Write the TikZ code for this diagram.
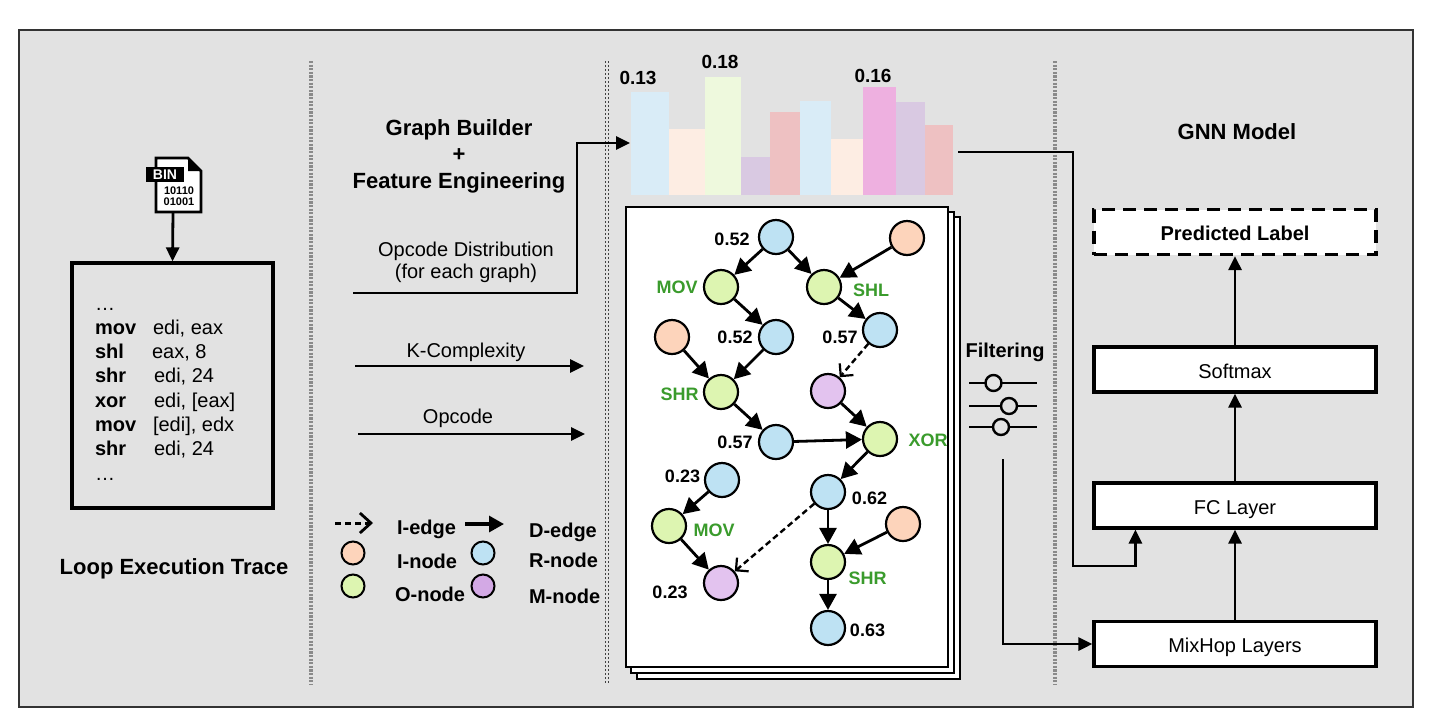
\documentclass[tikz,border=0pt]{standalone}
\usepackage{fontspec}
\setmainfont{Liberation Sans}
\usetikzlibrary{arrows.meta}
\definecolor{bgc}{HTML}{E2E2E2}
\definecolor{frm}{HTML}{333333}
\definecolor{divc}{HTML}{8A8A8A}
\definecolor{nblue}{HTML}{BEE2F3}
\definecolor{norange}{HTML}{FDD4BB}
\definecolor{ngreen}{HTML}{DDF5B1}
\definecolor{npurple}{HTML}{E3C3EF}
\definecolor{lpurple}{HTML}{D3A9E5}
\definecolor{opg}{HTML}{3A9B2C}
\definecolor{barA}{HTML}{D9ECF7}
\definecolor{barB}{HTML}{FDEDE3}
\definecolor{barC}{HTML}{EEF9DD}
\definecolor{barD}{HTML}{D9C9E2}
\definecolor{barE}{HTML}{EEC1C2}
\definecolor{barF}{HTML}{EEB0E0}
\begin{document}
\begin{tikzpicture}[x=0.5pt,y=-0.5pt,
  titletxt/.style={font=\fontsize{11}{13}\selectfont\bfseries},
  txt/.style={font=\fontsize{10}{12}\selectfont},
  btxt/.style={font=\fontsize{10}{12}\selectfont\bfseries},
  glab/.style={font=\fontsize{9}{10}\selectfont\bfseries},
  oplab/.style={glab, text=opg},
  barlab/.style={font=\fontsize{9.5}{11}\selectfont\bfseries},
  gnode/.style={circle, draw=black, line width=1.1pt, minimum size=17pt, inner sep=0pt},
  rnode/.style={gnode, fill=nblue},
  inode/.style={gnode, fill=norange},
  onode/.style={gnode, fill=ngreen},
  mnode/.style={gnode, fill=npurple},
  lnode/.style={circle, draw=black, line width=1pt, minimum size=11.5pt, inner sep=0pt},
  dedge/.style={draw=black, line width=1.4pt, -{Triangle[length=8pt,width=8.5pt]}},
  iedge/.style={draw=black, line width=1.2pt, dash pattern=on 3pt off 1.8pt, -{Straight Barb[length=4.5pt,width=9pt,line width=1.1pt]}},
  flow/.style={draw=black, line width=1.4pt, -{Triangle[length=7pt,width=6.5pt]}},
  layerbox/.style={draw=black, fill=white, line width=1.6pt, minimum width=141pt, minimum height=22.5pt, inner sep=0pt, txt, text height=8.5pt, text depth=0pt},
  divider/.style={draw=divc, line width=1.7pt, dash pattern=on 1.1pt off 0.7pt},
  pagebox/.style={draw=black, fill=white, line width=1.3pt},
]
\useasboundingbox (0,0) rectangle (1429,724);
% frame
\draw[draw=frm, line width=1.1pt, fill=bgc] (19,30) rectangle (1413,707);
% dividers
\draw[divider] (311,61) -- (311,685);
\draw[divider] (1055,61) -- (1055,685);
\draw[draw=black!75, line width=0.45pt, dash pattern=on 1pt off 1pt] (605,61) -- (605,685);
\draw[draw=black!75, line width=0.45pt, dash pattern=on 1pt off 1pt] (608.5,61) -- (608.5,685);

% ---------- left: BIN icon and trace ----------
\draw[black, line width=1.3pt, fill=white] (156,158) -- (188,158) -- (201,171) -- (201,212) -- (156,212) -- cycle;
\fill[black] (188,158) -- (201,171) -- (188,171) -- cycle;
\fill[black] (146,167) rectangle (184,182);
\node[text=white, font=\fontsize{7}{8}\selectfont\bfseries] (binlbl) at (165,175) {BIN};
\node[font=\fontsize{5.5}{6}\selectfont\bfseries] (binA) at (179,191) {10110};
\node[font=\fontsize{5.5}{6}\selectfont\bfseries] (binB) at (179,202) {01001};
\coordinate (bin) at (173,213);
\node[draw=black, line width=1.6pt, minimum width=100.5pt, minimum height=122.5pt, inner sep=0pt] (code) at (172.5,385.5) {};
\draw[flow] (bin) -- (code.north);

\node[txt, anchor=base west] (c0) at (88,310) {…};
\node[btxt, anchor=base west] (m1) at (88,334) {mov};
\node[txt, anchor=base west] (a1) at (146,334) {edi, eax};
\node[btxt, anchor=base west] (m2) at (88,358) {shl};
\node[txt, anchor=base west] (a2) at (145,358) {eax, 8};
\node[btxt, anchor=base west] (m3) at (88,382) {shr};
\node[txt, anchor=base west] (a3) at (147,382) {edi, 24};
\node[btxt, anchor=base west] (m4) at (88,407) {xor};
\node[txt, anchor=base west] (a4) at (147,407) {edi, [eax]};
\node[btxt, anchor=base west] (m5) at (88,431) {mov};
\node[txt, anchor=base west] (a5) at (146,431) {[edi], edx};
\node[btxt, anchor=base west] (m6) at (88,455) {shr};
\node[txt, anchor=base west] (a6) at (147,455) {edi, 24};
\node[txt, anchor=base west] (c7) at (88,480) {…};

\node[titletxt, anchor=base] (lettl) at (174,574) {Loop Execution Trace};

% ---------- middle: graph builder ----------
\node[titletxt, anchor=base] (gb1) at (459,135) {Graph Builder};
\node[titletxt] (gb2) at (459,155) {+};
\node[titletxt, anchor=base] (gb3) at (459,188) {Feature Engineering};

\node[txt, anchor=base] (od1) at (466,256) {Opcode Distribution};
\node[txt, anchor=base] (od2) at (466,278) {(for each graph)};
\coordinate (odS) at (353,293);
\coordinate (odE) at (630,143);
\draw[flow] (odS) -- (577,293) -- (577,143) -- (odE);

\node[txt, anchor=base] (kc) at (466,357) {K-Complexity};
\coordinate (kS) at (355,366);
\coordinate (kE) at (584,366);
\draw[flow] (kS) -- (kE);

\node[txt, anchor=base] (opc) at (458,423) {Opcode};
\coordinate (oS) at (358,434);
\coordinate (oE) at (585,434);
\draw[flow] (oS) -- (oE);

% legend
\coordinate (li1) at (335,523);
\coordinate (li2) at (373,523);
\draw[draw=black, line width=1.5pt, dash pattern=on 3pt off 2pt, -{Straight Barb[length=5.5pt,width=10pt,line width=1.4pt]}] (li1) -- (li2);
\node[btxt, anchor=base west] (lie) at (390,534) {I-edge};
\coordinate (ld1) at (465,524);
\coordinate (ld2) at (504,524);
\draw[draw=black, line width=1.6pt, -{Triangle[length=7.5pt,width=8pt]}] (ld1) -- (ld2);
\node[btxt, anchor=base west] (lde) at (522,537) {D-edge};
\node[lnode, fill=norange] (lin) at (353,553) {};
\node[btxt, anchor=base west] (lint) at (390,568) {I-node};
\node[lnode, fill=nblue] (lrn) at (483,553) {};
\node[btxt, anchor=base west] (lrnt) at (522,567) {R-node};
\node[lnode, fill=ngreen] (lon) at (353,586) {};
\node[btxt, anchor=base west] (lont) at (388,601) {O-node};
\node[lnode, fill=lpurple] (lmn) at (483,586) {};
\node[btxt, anchor=base west] (lmnt) at (522,603) {M-node};

% ---------- bar chart ----------
\fill[barA] (631,92) rectangle (669,195);
\fill[barB] (669,129) rectangle (705,195);
\fill[barC] (705,77) rectangle (741,195);
\fill[barD] (741,157) rectangle (770,195);
\fill[barE] (770,112) rectangle (800,195);
\fill[barA] (800,101) rectangle (831,195);
\fill[barB] (831,139) rectangle (863,195);
\fill[barF] (863,87) rectangle (896,195);
\fill[barD] (896,102) rectangle (925,195);
\fill[barE] (925,125) rectangle (953,195);
\node[barlab] (v1) at (638,78) {0.13};
\node[barlab] (v2) at (720,62) {0.18};
\node[barlab] (v3) at (873,76) {0.16};

% ---------- graph pages ----------
\draw[pagebox] (637,217) rectangle (960,679);
\draw[pagebox] (631,212) rectangle (954,673);
\draw[pagebox] (626,207) rectangle (948,667);

\node[rnode] (b1) at (776,237) {};
\node[inode] (o1) at (907,238) {};
\node[onode] (g1) at (721,287) {};
\node[onode] (g2) at (824,287) {};
\node[rnode] (b2) at (776,337) {};
\node[rnode] (b3) at (880,330) {};
\node[inode] (o2) at (672,337) {};
\node[onode] (g3) at (721,392) {};
\node[mnode] (p1) at (828,391) {};
\node[rnode] (b4) at (776,442) {};
\node[onode] (g4) at (880,439) {};
\node[rnode] (b5) at (722,480) {};
\node[rnode] (b6) at (828,492) {};
\node[onode] (g5) at (669,526) {};
\node[inode] (o3) at (903,524) {};
\node[onode] (g6) at (828,562) {};
\node[mnode] (p2) at (721,583) {};
\node[rnode] (b7) at (828,628) {};

\node[glab] (t1) at (732,239.5) {0.52};
\node[oplab] (t2) at (677,287.5) {MOV};
\node[oplab] (t3) at (871,290) {SHL};
\node[glab] (t4) at (735,337) {0.52};
\node[glab] (t5) at (840,337) {0.57};
\node[oplab] (t6) at (679.5,394.5) {SHR};
\node[glab] (t7) at (735,442) {0.57};
\node[oplab] (t8) at (928,440) {XOR};
\node[glab] (t9) at (682.5,476.5) {0.23};
\node[glab] (t10) at (869.5,498) {0.62};
\node[oplab] (t11) at (714,530) {MOV};
\node[oplab] (t12) at (867.5,578) {SHR};
\node[glab] (t13) at (670,592) {0.23};
\node[glab] (t14) at (867.5,630) {0.63};

\draw[dedge] (b1) -- (g1);
\draw[dedge] (b1) -- (g2);
\draw[dedge] (o1) -- (g2);
\draw[dedge] (g1) -- (b2);
\draw[dedge] (g2) -- (b3);
\draw[iedge] (b3) -- (p1);
\draw[dedge] (o2) -- (g3);
\draw[dedge] (b2) -- (g3);
\draw[dedge] (g3) -- (b4);
\draw[dedge] (p1) -- (g4);
\draw[dedge] (b4) -- (g4);
\draw[dedge] (g4) -- (b6);
\draw[dedge] (b5) -- (g5);
\draw[dedge] (g5) -- (p2);
\draw[iedge] (b6) -- (p2);
\draw[dedge] (b6) -- (g6);
\draw[dedge] (o3) -- (g6);
\draw[dedge] (g6) -- (b7);

% ---------- filtering ----------
\node[btxt, anchor=base] (filt) at (1005,357) {Filtering};
\draw[black, line width=1.2pt] (969,383) -- (1037,383);
\draw[black, line width=1.2pt] (969,406) -- (1037,406);
\draw[black, line width=1.2pt] (969,427) -- (1037,427);
\draw[black, line width=1.2pt, fill=bgc] (993.5,383) circle (4pt);
\draw[black, line width=1.2pt, fill=bgc] (1009,406) circle (4pt);
\draw[black, line width=1.2pt, fill=bgc] (1001,427) circle (4pt);

% ---------- GNN model ----------
\node[titletxt, anchor=base] (gnn) at (1237,139) {GNN Model};
\node[layerbox, dash pattern=on 6.5pt off 4pt, font=\fontsize{10}{12}\selectfont\bfseries] (pred) at (1235,232) {Predicted Label};
\node[layerbox] (soft) at (1235,369.5) {Softmax};
\node[layerbox] (fc) at (1235,505.5) {FC Layer};
\node[layerbox] (mix) at (1235,644) {MixHop Layers};

\draw[flow] (mix.north) -- (fc.south);
\draw[flow] (fc.north) -- (soft.south);
\draw[flow] (soft.north) -- (pred.south);

\coordinate (chartR) at (958,152);
\draw[flow] (chartR) -- (1073,152) -- (1073,566) -| ([xshift=21.5pt]fc.south west);
\coordinate (filtS) at (1003,459);
\draw[flow] (filtS) |- (mix.west);
\end{tikzpicture}
\end{document}
